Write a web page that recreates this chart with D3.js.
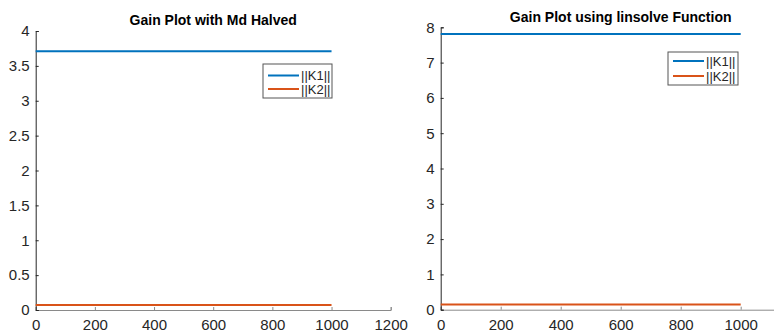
<!DOCTYPE html>
<html>
<head>
<meta charset="utf-8">
<script src="https://cdn.jsdelivr.net/npm/d3@7"></script>
<style>
  html, body { margin: 0; padding: 0; background: #fff; }
  svg { display: block; font-family: "Liberation Sans", Arial, sans-serif; }
</style>
</head>
<body>
<svg id="chart" width="774" height="333"></svg>
<script>
// Iteration index (start and end of each constant gain trace)
const iterations = [0, 1000];

// Left panel: gains with Md halved
const halvedK1 = [3.71, 3.71];
const halvedK2 = [0.07, 0.07];
const halvedXTicks = [0, 200, 400, 600, 800, 1000, 1200];
const halvedYTicks = [0, 0.5, 1, 1.5, 2, 2.5, 3, 3.5, 4];

// Right panel: gains from linsolve
const linsolveK1 = [7.81, 7.81];
const linsolveK2 = [0.15, 0.15];
const linsolveXTicks = [0, 200, 400, 600, 800, 1000];
const linsolveYTicks = [0, 1, 2, 3, 4, 5, 6, 7, 8];

const seriesNames = ["||K1||", "||K2||"];
const seriesColors = ["#0072BD", "#D95319"];

const svg = d3.select("#chart");

function panel(cfg) {
  const x = d3.scaleLinear().domain([0, 1200]).range([cfg.left, cfg.right]);
  const y = d3.scaleLinear().domain(cfg.yDomain).range([cfg.bottom, cfg.top]);
  const g = svg.append("g");

  // x axis (ticks point inward)
  const xAxis = g.append("g")
    .attr("transform", `translate(0,${cfg.bottom})`)
    .call(d3.axisBottom(x).tickValues(cfg.xTicks).tickSize(-3).tickPadding(0).tickFormat(d3.format("d")));
  xAxis.select(".domain").attr("stroke", "#8a8a8a");
  xAxis.selectAll(".tick line").attr("stroke", "#8a8a8a");
  xAxis.selectAll(".tick text")
    .attr("fill", "#262626").attr("font-size", 15)
    .attr("y", 15.5).attr("dy", "0.32em");

  // y axis (ticks point inward)
  const yAxis = g.append("g")
    .attr("transform", `translate(${cfg.left},0)`)
    .call(d3.axisLeft(y).tickValues(cfg.yTicks).tickSize(-3).tickPadding(0).tickFormat(d => String(d)));
  yAxis.select(".domain").attr("stroke", "#262626");
  yAxis.selectAll(".tick line").attr("stroke", "#262626");
  yAxis.selectAll(".tick text")
    .attr("fill", "#262626").attr("font-size", 15)
    .attr("x", -6);

  // gain traces
  const line = d3.line().x((d, i) => x(iterations[i])).y(d => y(d));
  cfg.series.forEach((vals, k) => {
    g.append("path")
      .datum(vals)
      .attr("d", line)
      .attr("fill", "none")
      .attr("stroke", seriesColors[k])
      .attr("stroke-width", 2);
  });

  // title
  g.append("text")
    .attr("x", (cfg.left + cfg.right) / 2)
    .attr("y", cfg.titleY)
    .attr("text-anchor", "middle")
    .attr("font-weight", "bold")
    .attr("font-size", 14)
    .attr("fill", "#000")
    .text(cfg.title);

  // legend
  const L = cfg.legend;
  const lg = g.append("g");
  lg.append("rect")
    .attr("x", L.x).attr("y", L.y).attr("width", L.w).attr("height", L.h)
    .attr("fill", "#fff").attr("stroke", "#555").attr("stroke-width", 1);
  seriesNames.forEach((name, k) => {
    const cy = L.y + L.row0 + k * L.step;
    lg.append("line")
      .attr("x1", L.x + 5).attr("x2", L.x + 36)
      .attr("y1", cy).attr("y2", cy)
      .attr("stroke", seriesColors[k]).attr("stroke-width", 2);
    lg.append("text")
      .attr("x", L.x + 38).attr("y", cy).attr("dy", "0.35em")
      .attr("font-size", 13).attr("fill", "#262626")
      .text(name);
  });
}

panel({
  left: 35.7, right: 390.7, top: 31, bottom: 310,
  yDomain: [0, 4], xTicks: halvedXTicks, yTicks: halvedYTicks,
  series: [halvedK1, halvedK2],
  title: "Gain Plot with Md Halved", titleY: 25,
  legend: { x: 263, y: 64, w: 69, h: 34, row0: 11.5, step: 13.5 }
});

panel({
  left: 440.7, right: 800.7, top: 27.3, bottom: 309.7,
  yDomain: [0, 8], xTicks: linsolveXTicks, yTicks: linsolveYTicks,
  series: [linsolveK1, linsolveK2],
  title: "Gain Plot using linsolve Function", titleY: 22,
  legend: { x: 668, y: 52, w: 70, h: 33, row0: 9, step: 15 }
});
</script>
</body>
</html>
